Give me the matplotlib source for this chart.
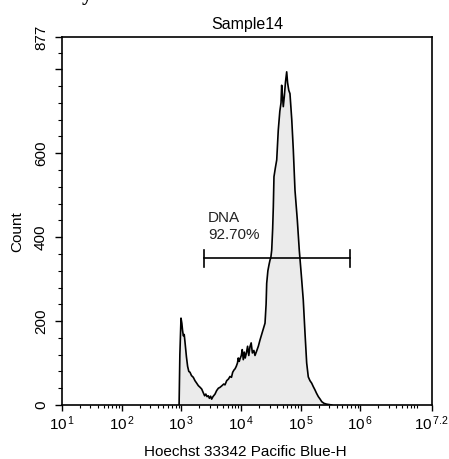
import numpy as np
import matplotlib
matplotlib.use("Agg")
import matplotlib.pyplot as plt
from matplotlib.ticker import FixedLocator, FixedFormatter, NullFormatter

plt.rcParams['font.family'] = ['Liberation Sans', 'DejaVu Sans']
plt.rcParams['mathtext.fontset'] = 'custom'
plt.rcParams['mathtext.rm'] = 'Liberation Sans'

# ---- data ----
title = "Sample14"
x_label = "Hoechst 33342 Pacific Blue-H"
y_label = "Count"

hist_log10 = [2.962, 2.975, 2.994, 3.008, 3.020, 3.033, 3.048, 3.061, 3.085, 3.105,
              3.125, 3.145, 3.170, 3.200, 3.228, 3.257, 3.285, 3.315, 3.341, 3.365,
              3.390, 3.410, 3.430, 3.451, 3.470, 3.490, 3.508, 3.530, 3.564, 3.590,
              3.620, 3.647, 3.680, 3.710, 3.731, 3.760, 3.790, 3.815, 3.840, 3.860,
              3.885, 3.899, 3.920, 3.940, 3.954, 3.970, 3.983, 4.005, 4.020, 4.038,
              4.055, 4.070, 4.090, 4.110, 4.130, 4.150, 4.170, 4.190, 4.215, 4.234,
              4.260, 4.290, 4.318, 4.360, 4.402, 4.420, 4.430, 4.450, 4.470, 4.485,
              4.500, 4.514, 4.530, 4.541, 4.552, 4.575, 4.598, 4.624, 4.650, 4.670,
              4.681, 4.692, 4.708, 4.725, 4.745, 4.765, 4.780, 4.800, 4.820, 4.850,
              4.876, 4.904, 4.943, 4.976, 5.010, 5.043, 5.072, 5.100, 5.127, 5.155,
              5.184, 5.210, 5.239, 5.265, 5.295, 5.325, 5.352, 5.390, 5.435, 5.480,
              5.519]
hist_count = [0, 120, 207, 195, 178, 165, 168, 150, 115, 92,
              80, 78, 70, 66, 58, 52, 46, 42, 38, 30,
              22, 26, 20, 22, 16, 21, 14, 20, 26, 34,
              40, 42, 46, 50, 48, 58, 62, 68, 66, 78,
              84, 86, 92, 100, 112, 104, 110, 118, 132, 108,
              126, 112, 124, 140, 118, 139, 148, 124, 130, 118,
              128, 140, 155, 175, 195, 240, 290, 320, 335, 345,
              352, 369, 420, 472, 544, 565, 584, 655, 700, 720,
              762, 740, 711, 735, 770, 794, 768, 750, 742, 680,
              608, 512, 441, 369, 310, 250, 171, 100, 67, 58,
              52, 44, 36, 28, 20, 14, 8, 4, 2, 1,
              0]

gate_name = "DNA"
gate_pct = "92.70%"
gate_log10 = [3.384, 5.826]
gate_count = 350

x_major_log10 = [1, 2, 3, 4, 5, 6, 7.2]
x_major_labels = [r"$\mathregular{10^{\,1}}$", r"$\mathregular{10^{\,2}}$", r"$\mathregular{10^{\,3}}$",
                  r"$\mathregular{10^{\,4}}$", r"$\mathregular{10^{\,5}}$", r"$\mathregular{10^{\,6}}$",
                  r"$\mathregular{10^{\,7.2}}$"]
y_major = [0, 200, 400, 600, 800, 877]
y_major_labels = ["0", "200", "400", "600", "", "877"]
y_max = 877

# ---- figure ----
W, H = 449, 459
fig = plt.figure(figsize=(W / 100, H / 100), dpi=100)
ax = fig.add_axes([62 / W, (H - 405) / H, (432 - 62) / W, (405 - 37) / H])

xs = 10 ** np.array(hist_log10)
ys = np.array(hist_count)
ax.fill_between(xs, 0, ys, color="#ebebeb", linewidth=0, zorder=1)
ax.plot(xs, ys, color="black", linewidth=1.2, zorder=2)

# gate
gx = 10 ** np.array(gate_log10)
ax.plot(gx, [gate_count, gate_count], color="black", linewidth=1.2, zorder=3)
for v in gx:
    ax.plot([v, v], [gate_count - 20, gate_count + 20], color="black", linewidth=1.2, zorder=3)
ax.text(10 ** 3.45, gate_count + 38, gate_name + "\n" + gate_pct, fontsize=11,
        ha="left", va="bottom", linespacing=1.25, color="#222222")

ax.set_xscale("log")
ax.set_xlim(10 ** x_major_log10[0], 10 ** x_major_log10[-1])
ax.set_ylim(0, y_max)

ax.xaxis.set_major_locator(FixedLocator([10 ** v for v in x_major_log10]))
ax.xaxis.set_major_formatter(FixedFormatter(x_major_labels))
minor_x = [m * 10 ** d for d in range(1, 7) for m in range(2, 10) if m * 10 ** d < 10 ** 7.2]
ax.xaxis.set_minor_locator(FixedLocator(minor_x))
ax.xaxis.set_minor_formatter(NullFormatter())

ax.yaxis.set_major_locator(FixedLocator(y_major))
ax.yaxis.set_major_formatter(FixedFormatter(y_major_labels))
ax.yaxis.set_minor_locator(FixedLocator([v for v in range(40, 877, 40) if v % 200 != 0]))

ax.tick_params(axis="x", which="major", length=4, width=1, pad=3, labelsize=11, direction="out")
ax.tick_params(axis="x", which="minor", length=2, width=0.8, direction="out")
ax.tick_params(axis="y", which="major", length=5, width=1, pad=5, labelsize=11, direction="out")
ax.tick_params(axis="y", which="minor", length=3, width=0.8, direction="out")
for lab in ax.get_yticklabels():
    lab.set_rotation(90)
    lab.set_va("center")

for s in ax.spines.values():
    s.set_linewidth(1.2)
    s.set_color("black")

ax.set_title(title, fontsize=11.5, pad=6)
fig.text(245 / W, 1 - 452 / H, x_label, fontsize=11, ha="center", va="center")
fig.text(17 / W, 1 - 232 / H, y_label, fontsize=11, ha="center", va="center", rotation=90)

# partial glyph cut off at the top edge (as in the reference)
fig.text(87 / W, 1.0, "y", fontsize=15, family="Liberation Serif", fontweight="bold",
         ha="center", va="baseline")

fig.savefig("out.png", dpi=100)
